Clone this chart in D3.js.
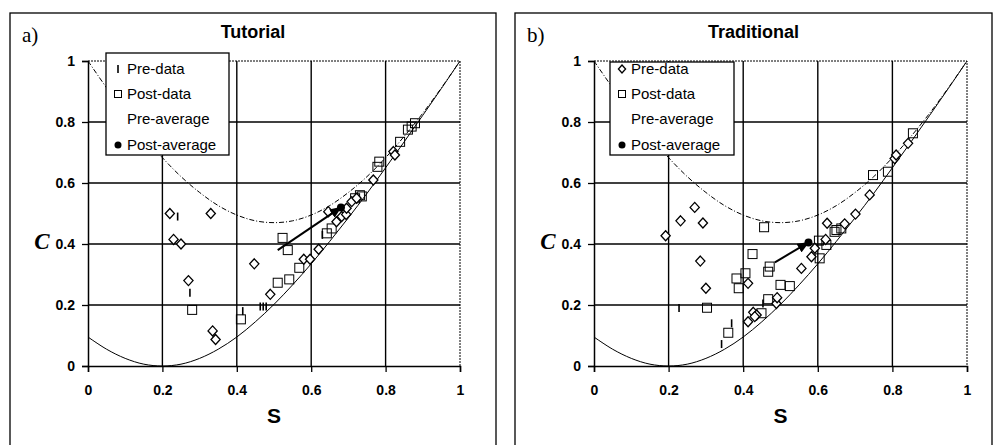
<!DOCTYPE html>
<html>
<head>
<meta charset="utf-8">
<script src="https://cdn.jsdelivr.net/npm/d3@7"></script>
<style>
body { margin: 0; background: #fff; }
</style>
</head>
<body>
<div id="chart"></div>
<script>
// axis ticks
const sTicks = [0, 0.2, 0.4, 0.6, 0.8, 1];
const cTicks = [0, 0.2, 0.4, 0.6, 0.8, 1];

// boundary curves
const curveS = [0, 0.05, 0.1, 0.15, 0.2, 0.25, 0.3, 0.35, 0.4, 0.45, 0.5, 0.55, 0.6, 0.65, 0.7, 0.75, 0.8, 0.85, 0.9, 0.95, 1];
const lowerC = [0.095, 0.055, 0.025, 0.006, 0, 0.006, 0.025, 0.055, 0.095, 0.145, 0.202, 0.266, 0.335, 0.409, 0.486, 0.566, 0.65, 0.735, 0.822, 0.91, 1];
const upperC = [1, 0.912, 0.829, 0.753, 0.683, 0.621, 0.569, 0.526, 0.495, 0.476, 0.47, 0.476, 0.495, 0.526, 0.569, 0.621, 0.683, 0.753, 0.829, 0.912, 1];

// a) Tutorial  [S, C]
const tutorialPre = [[0.22, 0.50], [0.23, 0.415], [0.25, 0.40], [0.33, 0.50], [0.27, 0.28], [0.335, 0.115],
  [0.343, 0.087], [0.447, 0.335], [0.49, 0.235], [0.58, 0.35], [0.597, 0.35], [0.62, 0.383], [0.646, 0.506],
  [0.668, 0.473], [0.682, 0.49], [0.694, 0.497], [0.695, 0.517], [0.709, 0.539], [0.722, 0.55], [0.767, 0.61],
  [0.821, 0.703], [0.825, 0.692]];
const tutorialPost = [[0.28, 0.184], [0.411, 0.153], [0.523, 0.42], [0.537, 0.38], [0.568, 0.322], [0.541, 0.284],
  [0.51, 0.273], [0.642, 0.435], [0.655, 0.451], [0.718, 0.55], [0.731, 0.56], [0.736, 0.556], [0.778, 0.653],
  [0.783, 0.67], [0.839, 0.735], [0.86, 0.775], [0.87, 0.785], [0.879, 0.796]];
const tutorialMarks = [[0.241, 0.49], [0.274, 0.24], [0.416, 0.18], [0.463, 0.195], [0.471, 0.195], [0.479, 0.195], [0.63, 0.43]];
const tutorialAvg = [[0.51, 0.38], [0.68, 0.52]];

// b) Traditional  [S, C]
const traditionalPre = [[0.192, 0.427], [0.232, 0.476], [0.27, 0.52], [0.292, 0.469], [0.285, 0.344], [0.30, 0.255],
  [0.413, 0.271], [0.413, 0.145], [0.427, 0.176], [0.436, 0.167], [0.431, 0.162], [0.489, 0.205], [0.491, 0.224],
  [0.556, 0.32], [0.583, 0.358], [0.592, 0.386], [0.621, 0.415], [0.625, 0.468], [0.672, 0.466], [0.701, 0.498],
  [0.739, 0.561], [0.806, 0.68], [0.81, 0.692], [0.842, 0.73]];
const traditionalPost = [[0.303, 0.191], [0.36, 0.109], [0.425, 0.367], [0.456, 0.455], [0.406, 0.304], [0.382, 0.287],
  [0.388, 0.255], [0.467, 0.309], [0.471, 0.326], [0.449, 0.173], [0.467, 0.219], [0.50, 0.266], [0.525, 0.262],
  [0.603, 0.411], [0.623, 0.397], [0.605, 0.353], [0.645, 0.44], [0.65, 0.446], [0.663, 0.451], [0.748, 0.626],
  [0.788, 0.637], [0.855, 0.763]];
const traditionalMarks = [[0.228, 0.19], [0.369, 0.14], [0.342, 0.072], [0.453, 0.205]];
const traditionalAvg = [[0.485, 0.34], [0.575, 0.405]];

const legendLabels = ["Pre-data", "Post-data", "Pre-average", "Post-average"];

const panels = [
  { tag: "a)", title: "Tutorial", pre: tutorialPre, post: tutorialPost, marks: tutorialMarks, avg: tutorialAvg,
    box: [10, 13, 496], plot: [88, 460], legend: [106, 53, 123, 102], preIcon: "tick" },
  { tag: "b)", title: "Traditional", pre: traditionalPre, post: traditionalPost, marks: traditionalMarks, avg: traditionalAvg,
    box: [515, 13, 992], plot: [594, 967], legend: [610, 62, 124, 93], preIcon: "diamond" }
];

const svg = d3.select("#chart").append("svg")
  .attr("width", 995)
  .attr("height", 445)
  .style("font-family", "Arial, 'Liberation Sans', sans-serif");

svg.append("defs").append("marker")
  .attr("id", "head")
  .attr("viewBox", "0 0 12 10")
  .attr("refX", 11).attr("refY", 5)
  .attr("markerWidth", 12).attr("markerHeight", 10)
  .attr("markerUnits", "userSpaceOnUse")
  .attr("orient", "auto")
  .append("path")
  .attr("d", "M0,0L12,5L0,10Z")
  .attr("fill", "black");

const diamondPath = "M0,-5L4.6,0L0,5L-4.6,0Z";

const drawPanel = (p) => {
  const g = svg.append("g");
  const x = d3.scaleLinear().domain([0, 1]).range(p.plot);
  const y = d3.scaleLinear().domain([0, 1]).range([366, 61]);

  // frame around panel
  g.append("rect")
    .attr("x", p.box[0]).attr("y", p.box[1])
    .attr("width", p.box[2] - p.box[0]).attr("height", 460)
    .attr("fill", "none").attr("stroke", "black").attr("stroke-width", 1.3);

  g.append("text")
    .attr("x", p.box[0] + 12).attr("y", 42)
    .style("font-family", "'Liberation Serif', 'Times New Roman', serif")
    .style("font-size", "21px")
    .text(p.tag);

  g.append("text")
    .attr("x", (p.box[0] + p.box[2]) / 2).attr("y", 38)
    .attr("text-anchor", "middle")
    .style("font-size", "18px").style("font-weight", "bold")
    .text(p.title);

  // grid
  g.selectAll(".vgrid").data(sTicks.slice(1, -1)).enter().append("line")
    .attr("x1", d => x(d)).attr("x2", d => x(d)).attr("y1", y(0)).attr("y2", y(1))
    .attr("stroke", "black").attr("stroke-width", 1.4);
  g.selectAll(".hgrid").data(cTicks.slice(1, -1)).enter().append("line")
    .attr("x1", x(0)).attr("x2", x(1)).attr("y1", d => y(d)).attr("y2", d => y(d))
    .attr("stroke", "black").attr("stroke-width", 1.4);
  // top and right border dotted
  g.append("path")
    .attr("d", `M${x(0)},${y(1)}H${x(1)}V${y(0)}`)
    .attr("fill", "none").attr("stroke", "black").attr("stroke-width", 1)
    .attr("stroke-dasharray", "2,1");

  // axes
  const xAxis = g.append("g").attr("transform", `translate(0,${y(0)})`)
    .call(d3.axisBottom(x).tickValues(sTicks).tickSize(6).tickPadding(13).tickFormat(d3.format("")));
  const yAxis = g.append("g").attr("transform", `translate(${x(0)},0)`)
    .call(d3.axisLeft(y).tickValues(cTicks).tickSize(6).tickPadding(7).tickFormat(d3.format("")));
  [xAxis, yAxis].forEach(a => {
    a.select(".domain").attr("stroke", "black").attr("stroke-width", 1.5);
    a.selectAll(".tick line").attr("stroke", "black").attr("stroke-width", 1.3);
    a.selectAll("text").attr("fill", "black")
      .style("font-family", "Arial, 'Liberation Sans', sans-serif")
      .style("font-size", "14px").style("font-weight", "bold");
  });

  g.append("text")
    .attr("x", (p.plot[0] + p.plot[1]) / 2).attr("y", 423)
    .attr("text-anchor", "middle")
    .style("font-size", "21px").style("font-weight", "bold")
    .text("S");
  g.append("text")
    .attr("x", p.plot[0] - 46).attr("y", 249)
    .attr("text-anchor", "middle")
    .style("font-family", "'Liberation Serif', 'Times New Roman', serif")
    .style("font-size", "23px").style("font-weight", "bold").style("font-style", "italic")
    .text("C");

  // boundary curves
  const line = d3.line().x(d => x(d[0])).y(d => y(d[1])).curve(d3.curveCatmullRom);
  g.append("path")
    .attr("d", line(curveS.map((s, i) => [s, upperC[i]])))
    .attr("fill", "none").attr("stroke", "black").attr("stroke-width", 1)
    .attr("stroke-dasharray", "5,2,1,2");
  g.append("path")
    .attr("d", line(curveS.map((s, i) => [s, lowerC[i]])))
    .attr("fill", "none").attr("stroke", "black").attr("stroke-width", 1);

  // data
  g.selectAll(".mark").data(p.marks).enter().append("line")
    .attr("x1", d => x(d[0])).attr("x2", d => x(d[0]))
    .attr("y1", d => y(d[1]) - 4).attr("y2", d => y(d[1]) + 4)
    .attr("stroke", "black").attr("stroke-width", 1.6);
  g.selectAll(".post").data(p.post).enter().append("rect")
    .attr("x", d => x(d[0]) - 4.5).attr("y", d => y(d[1]) - 4.5)
    .attr("width", 9).attr("height", 9)
    .attr("fill", "none").attr("stroke", "black").attr("stroke-width", 1);
  g.selectAll(".pre").data(p.pre).enter().append("path")
    .attr("d", diamondPath)
    .attr("transform", d => `translate(${x(d[0])},${y(d[1])})`)
    .attr("fill", "white").attr("stroke", "black").attr("stroke-width", 1.3);

  // average arrow
  g.append("line")
    .attr("x1", x(p.avg[0][0])).attr("y1", y(p.avg[0][1]))
    .attr("x2", x(p.avg[1][0])).attr("y2", y(p.avg[1][1]))
    .attr("stroke", "black").attr("stroke-width", 2)
    .attr("marker-end", "url(#head)");
  g.append("circle")
    .attr("cx", x(p.avg[1][0])).attr("cy", y(p.avg[1][1])).attr("r", 4)
    .attr("fill", "black");

  // legend
  const [lx, ly, lw, lh] = p.legend;
  const lg = g.append("g");
  lg.append("rect")
    .attr("x", lx).attr("y", ly).attr("width", lw).attr("height", lh)
    .attr("fill", "white").attr("stroke", "black").attr("stroke-width", 1.3);
  const rowY = [69, 94, 119, 145];
  lg.selectAll("text").data(legendLabels).enter().append("text")
    .attr("x", lx + 21).attr("y", (d, i) => rowY[i] + 5)
    .style("font-size", "15px")
    .text(d => d);
  const mx = lx + 12;
  if (p.preIcon === "tick") {
    lg.append("line").attr("x1", mx).attr("x2", mx).attr("y1", rowY[0] - 4).attr("y2", rowY[0] + 4)
      .attr("stroke", "black").attr("stroke-width", 1.6);
  } else {
    lg.append("path").attr("d", "M0,-4L3.6,0L0,4L-3.6,0Z")
      .attr("transform", `translate(${mx},${rowY[0]})`)
      .attr("fill", "white").attr("stroke", "black").attr("stroke-width", 1.3);
  }
  lg.append("rect").attr("x", mx - 3.5).attr("y", rowY[1] - 3.5).attr("width", 7).attr("height", 7)
    .attr("fill", "none").attr("stroke", "black").attr("stroke-width", 1);
  lg.append("circle").attr("cx", mx).attr("cy", rowY[3]).attr("r", 3.5).attr("fill", "black");
};

panels.forEach(drawPanel);
</script>
</body>
</html>
